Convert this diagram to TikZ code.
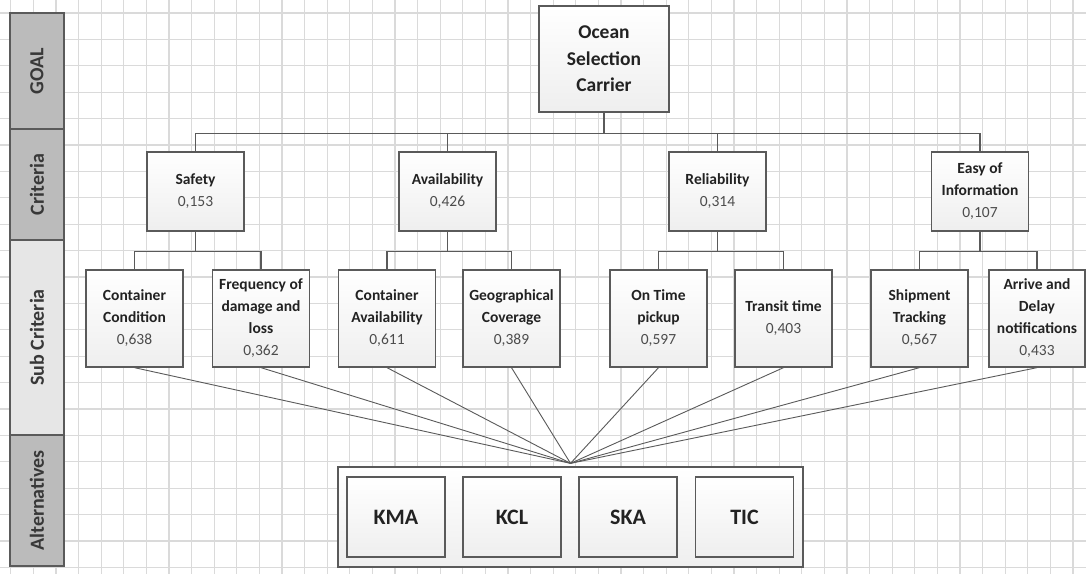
\documentclass[tikz,border=0pt]{standalone}
\usepackage{fontspec}
\setmainfont{Carlito}
\usetikzlibrary{calc}
\definecolor{gridc}{HTML}{DADADA}
\definecolor{edgec}{HTML}{5A5A5A}
\definecolor{banddark}{HTML}{BBBBBB}
\definecolor{bandlight}{HTML}{E6E6E6}
\definecolor{txt}{HTML}{222222}
\definecolor{numc}{HTML}{4C4C4C}
\newcommand\wt[1]{{\color{numc}#1}}
\begin{document}
\begin{tikzpicture}[x=1pt,y=-1pt,
  box/.style={draw=edgec, line width=1.3pt, top color=white, bottom color=gray!13,
    inner sep=0pt, align=center, text=txt, font=\fontsize{15.5}{22}\selectfont},
  critbox/.style={box, minimum width=97pt, minimum height=79pt},
  subbox/.style={box, minimum width=97pt, minimum height=97pt},
  altbox/.style={box, minimum width=98pt, minimum height=80pt, font=\fontsize{22}{26}\selectfont\bfseries},
  band/.style={draw=edgec, line width=1.3pt, inner sep=0pt},
  bandlabel/.style={rotate=90, text=txt!90!white, font=\fontsize{20}{22}\selectfont\bfseries},
  link/.style={draw=edgec, line width=1.2pt},
  fan/.style={draw=edgec, line width=0.9pt}]
\useasboundingbox (0,0) rectangle (1086,574);
\fill[white] (0,0) rectangle (1086,574);

% background grid
\foreach \i in {0,...,48} {
  \draw[gridc, line width=1.2pt] ({10.8+22.6*\i},0) -- ({10.8+22.6*\i},574);
}
\foreach \j in {0,...,21} {
  \draw[gridc, line width=1.2pt] (0,{13+26.4*\j}) -- (1086,{13+26.4*\j});
}

% level bands
\draw[band, fill=banddark] (10,13) rectangle (64,129);
\draw[band, fill=banddark] (10,129) rectangle (64,240);
\draw[band, fill=bandlight] (10,240) rectangle (64,435);
\draw[band, fill=banddark] (10,435) rectangle (64,566);
\node[bandlabel] (lgoal) at (37,71) {GOAL};
\node[bandlabel] (lcrit) at (37,184.5) {Criteria};
\node[bandlabel] (lsub) at (37,337.5) {Sub Criteria};
\node[bandlabel] (lalt) at (37,500.5) {Alternatives};

% goal
\node[box, minimum width=130pt, minimum height=106pt, font=\fontsize{19.5}{26.5}\selectfont\bfseries]
  (goal) at (604,59) {Ocean\\Selection\\Carrier};

% criteria
\node[critbox] (safety) at (195.5,191.5) {\textbf{Safety}\\\wt{0,153}};
\node[critbox] (avail) at (447.5,191.5) {\textbf{Availability}\\\wt{0,426}};
\node[critbox] (relia) at (717.5,191.5) {\textbf{Reliability}\\\wt{0,314}};
\node[critbox] (easy) at (980,191.5) {\textbf{Easy of}\\\textbf{Information}\\\wt{0,107}};

% sub criteria
\node[subbox] (cc) at (134.5,318.5) {\textbf{Container}\\\textbf{Condition}\\\wt{0,638}};
\node[subbox] (fdl) at (261,318.5) {\textbf{Frequency of}\\\textbf{damage and}\\\textbf{loss}\\\wt{0,362}};
\node[subbox] (ca) at (387,318.5) {\textbf{Container}\\\textbf{Availability}\\\wt{0,611}};
\node[subbox] (gc) at (511.5,318.5) {\textbf{Geographical}\\\textbf{Coverage}\\\wt{0,389}};
\node[subbox] (otp) at (658.5,318.5) {\textbf{On Time}\\\textbf{pickup}\\\wt{0,597}};
\node[subbox] (tt) at (783.5,318.5) {\textbf{Transit time}\\\wt{0,403}};
\node[subbox] (st) at (919.5,318.5) {\textbf{Shipment}\\\textbf{Tracking}\\\wt{0,567}};
\node[subbox, minimum width=96pt] (adn) at (1037,318.5) {\textbf{Arrive and}\\\textbf{Delay}\\\textbf{notifications}\\\wt{0,433}};

% alternatives
\node[box, minimum width=465pt, minimum height=100pt] (alt) at (570.5,517) {};
\node[altbox] (kma) at (396,517) {KMA};
\node[altbox] (kcl) at (512,517) {KCL};
\node[altbox] (ska) at (628,517) {SKA};
\node[altbox] (tic) at (744.5,517) {TIC};

% goal to criteria
\coordinate (gbar) at ($(goal.south)+(0,21)$);
\draw[link] (goal.south) -- (gbar);
\draw[link] (safety.north) |- (gbar) -| (easy.north);
\draw[link] (avail.north) -- (avail.north |- gbar);
\draw[link] (relia.north) -- (relia.north |- gbar);

% criteria to sub criteria
\draw[link] (safety.south) -- ++(0,20);
\draw[link] (cc.north) |- ($(safety.south)+(0,20)$) -| (fdl.north);
\draw[link] (avail.south) -- ++(0,20);
\draw[link] (ca.north) |- ($(avail.south)+(0,20)$) -| (gc.north);
\draw[link] (relia.south) -- ++(0,20);
\draw[link] (otp.north) |- ($(relia.south)+(0,20)$) -| (tt.north);
\draw[link] (easy.south) -- ++(0,20);
\draw[link] (st.north) |- ($(easy.south)+(0,20)$) -| (adn.north);

% sub criteria to alternatives
\foreach \s in {cc,fdl,ca,gc,otp,tt,st,adn} {
  \draw[fan] (\s.south) -- ($(alt.north)+(0,-3)$);
}
\end{tikzpicture}
\end{document}
